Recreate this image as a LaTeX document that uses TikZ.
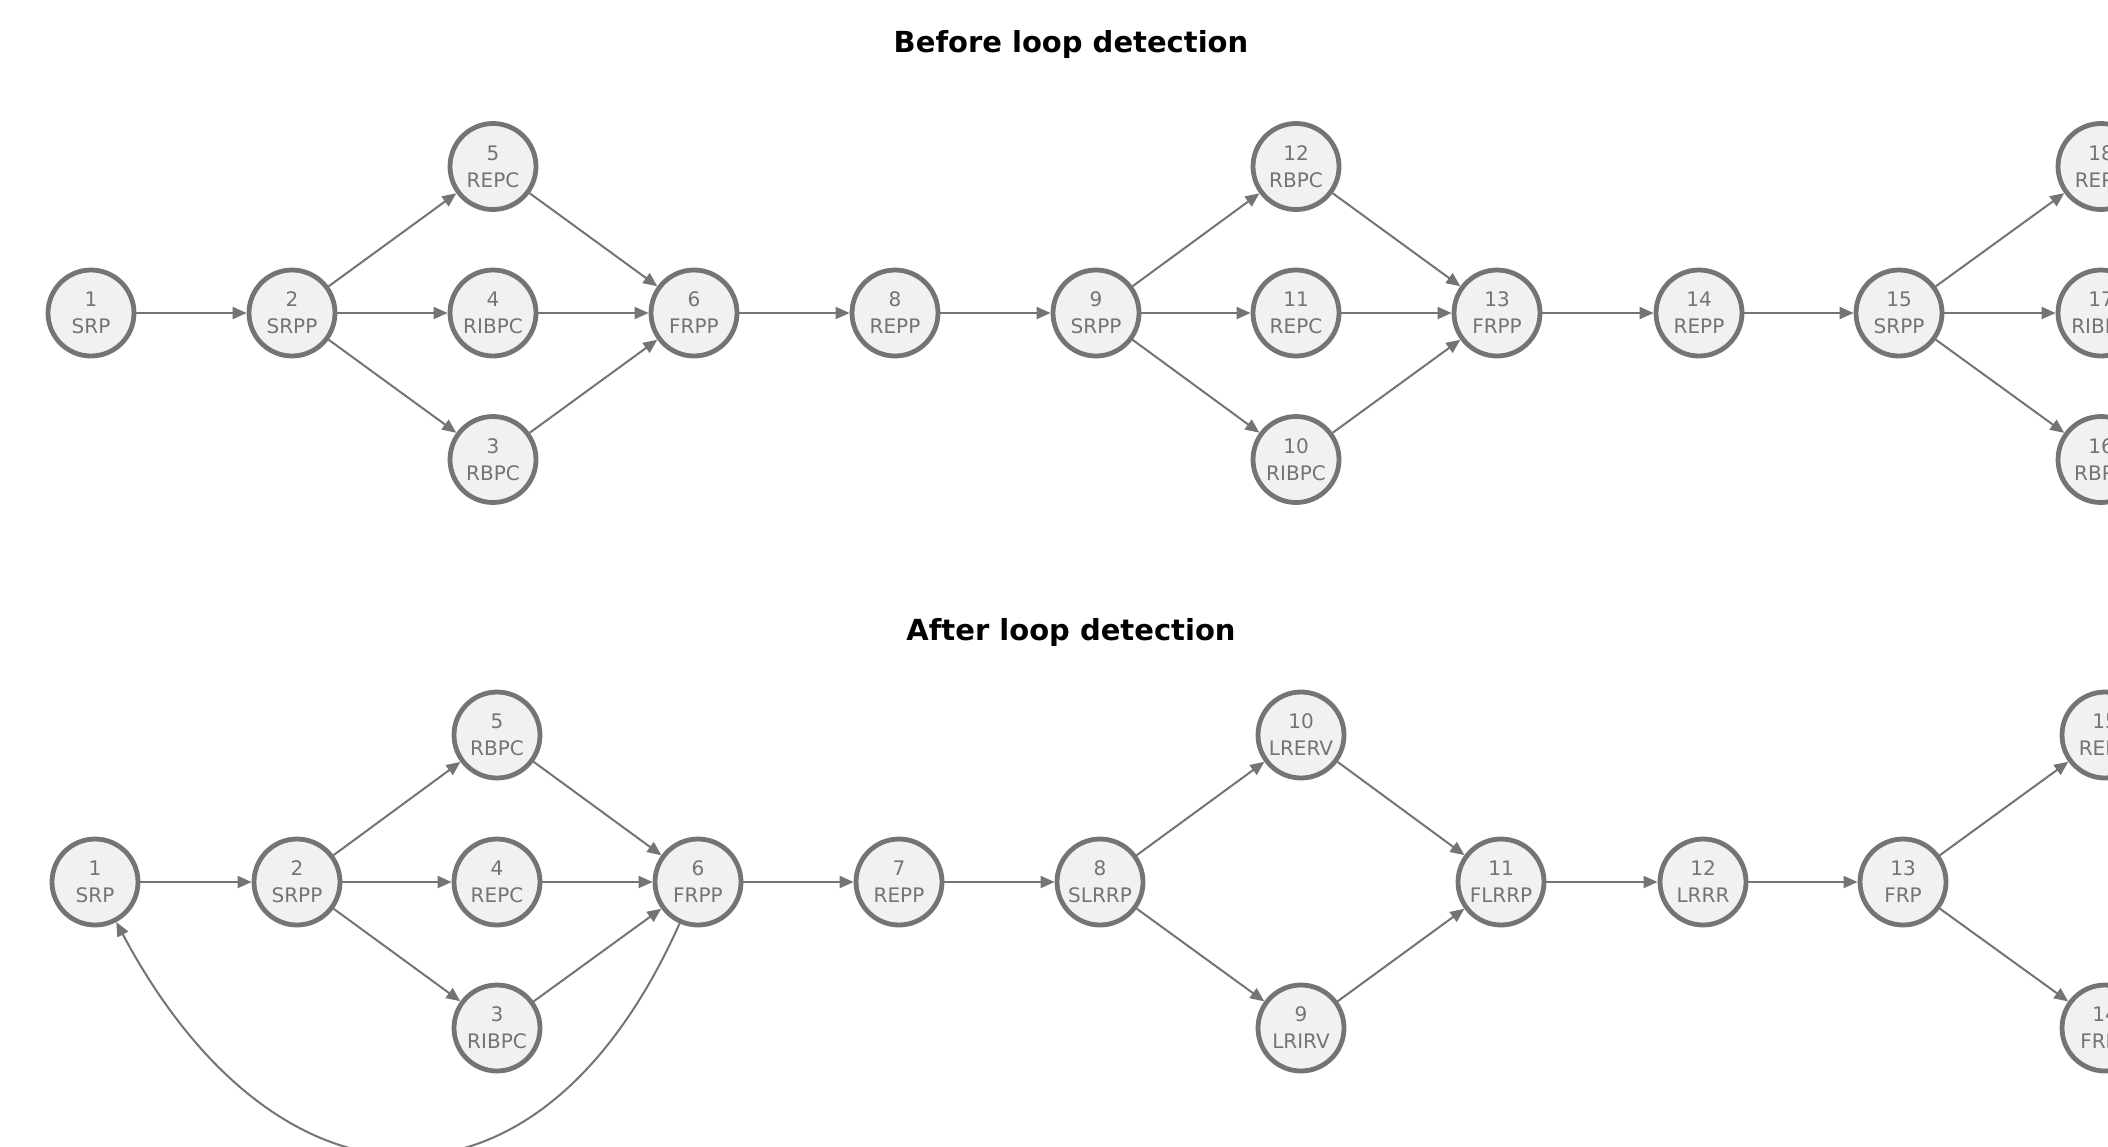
\documentclass[tikz,border=0pt]{standalone}
\usepackage{fontspec}
\setmainfont{DejaVu Sans}
\usetikzlibrary{arrows.meta}
\definecolor{linegray}{RGB}{115,115,120}
\definecolor{nodefill}{RGB}{241,241,241}
\begin{document}
\begin{tikzpicture}[x=0.5pt,y=-0.5pt,
  state/.style={circle,draw=linegray,fill=nodefill,line width=2.4pt,minimum size=43pt,
    inner sep=0pt,text=linegray,align=center,font=\fontsize{10}{13.5}\selectfont},
  link/.style={draw=linegray,line width=1pt,-{Triangle[length=7pt,width=6pt]}},
  heading/.style={font=\fontsize{14.5}{17}\selectfont\bfseries}]
\useasboundingbox (0,0) rectangle (2108,1146);
\node[heading] (titleb) at (1071,44) {Before loop detection};
\node[state] (b1) at (91,313) {1\\SRP};
\node[state] (b2) at (292,313) {2\\SRPP};
\node[state] (b5) at (493,166.5) {5\\REPC};
\node[state] (b4) at (493,313) {4\\RIBPC};
\node[state] (b3) at (493,459.5) {3\\RBPC};
\node[state] (b6) at (694,313) {6\\FRPP};
\node[state] (b8) at (895,313) {8\\REPP};
\node[state] (b9) at (1096,313) {9\\SRPP};
\node[state] (b12) at (1296,166.5) {12\\RBPC};
\node[state] (b11) at (1296,313) {11\\REPC};
\node[state] (b10) at (1296,459.5) {10\\RIBPC};
\node[state] (b13) at (1497,313) {13\\FRPP};
\node[state] (b14) at (1699,313) {14\\REPP};
\node[state] (b15) at (1899,313) {15\\SRPP};
\node[state] (b18) at (2101,166.5) {18\\REPC};
\node[state] (b17) at (2101,313) {17\\RIBPC};
\node[state] (b16) at (2101,459.5) {16\\RBPC};
\draw[link] (b1) -- (b2);
\draw[link] (b2) -- (b5);
\draw[link] (b2) -- (b4);
\draw[link] (b2) -- (b3);
\draw[link] (b5) -- (b6);
\draw[link] (b4) -- (b6);
\draw[link] (b3) -- (b6);
\draw[link] (b6) -- (b8);
\draw[link] (b8) -- (b9);
\draw[link] (b9) -- (b12);
\draw[link] (b9) -- (b11);
\draw[link] (b9) -- (b10);
\draw[link] (b12) -- (b13);
\draw[link] (b11) -- (b13);
\draw[link] (b10) -- (b13);
\draw[link] (b13) -- (b14);
\draw[link] (b14) -- (b15);
\draw[link] (b15) -- (b18);
\draw[link] (b15) -- (b17);
\draw[link] (b15) -- (b16);
\node[heading] (titlea) at (1071,632) {After loop detection};
\node[state] (a1) at (95,882) {1\\SRP};
\node[state] (a2) at (297,882) {2\\SRPP};
\node[state] (a5) at (497,735) {5\\RBPC};
\node[state] (a4) at (497,882) {4\\REPC};
\node[state] (a3) at (497,1028) {3\\RIBPC};
\node[state] (a6) at (698,882) {6\\FRPP};
\node[state] (a7) at (899,882) {7\\REPP};
\node[state] (a8) at (1100,882) {8\\SLRRP};
\node[state] (a10) at (1301,735) {10\\LRERV};
\node[state] (a9) at (1301,1028) {9\\LRIRV};
\node[state] (a11) at (1501,882) {11\\FLRRP};
\node[state] (a12) at (1703,882) {12\\LRRR};
\node[state] (a13) at (1903,882) {13\\FRP};
\node[state] (a15) at (2105,735) {15\\REPC};
\node[state] (a14) at (2105,1028) {14\\FRPP};
\draw[link] (a1) -- (a2);
\draw[link] (a2) -- (a5);
\draw[link] (a2) -- (a4);
\draw[link] (a2) -- (a3);
\draw[link] (a5) -- (a6);
\draw[link] (a4) -- (a6);
\draw[link] (a3) -- (a6);
\draw[link] (a6) -- (a7);
\draw[link] (a7) -- (a8);
\draw[link] (a8) -- (a10);
\draw[link] (a8) -- (a9);
\draw[link] (a10) -- (a11);
\draw[link] (a9) -- (a11);
\draw[link] (a11) -- (a12);
\draw[link] (a12) -- (a13);
\draw[link] (a13) -- (a15);
\draw[link] (a13) -- (a14);
\draw[link] (a6) to[out=-114,in=-62,looseness=1.56] (a1);
\end{tikzpicture}
\end{document}
